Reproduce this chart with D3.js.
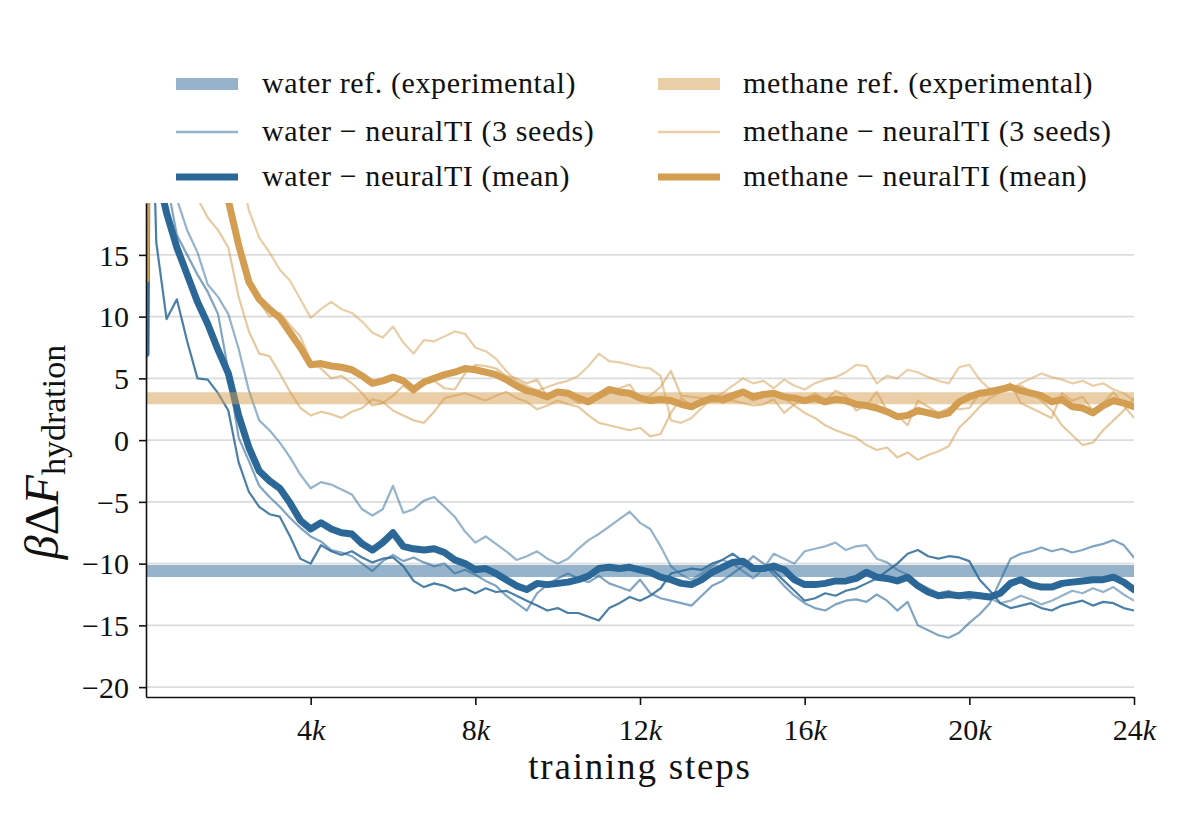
<!DOCTYPE html>
<html>
<head>
<meta charset="utf-8">
<script src="https://cdn.jsdelivr.net/npm/d3@7"></script>
<style>
  body { margin: 0; background: #fff; }
  text { font-family: "Liberation Serif", "DejaVu Serif", serif; fill: #111; }
</style>
</head>
<body>
<svg class="chart"></svg>
<script>
const [width, height] = [1200, 823]

// training steps: start, first jump, then every 250 steps
const steps = [0, 50].concat(d3.range(250, 24001, 250))

// reference values (experimental)
const waterRef = -10.6
const methaneRef = 3.4

// water, three seeds
const waterSeedA = [4, 40,
	30, 24, 19.5, 17.0, 15.2, 12.6, 11.6, 10.2,
	7.4, 4.0, 1.6, 0.8, -0.2, -1.4, -2.8, -3.9,
	-3.4, -3.6, -4.0, -4.4, -5.6, -6.1, -5.6, -3.7,
	-5.9, -5.6, -4.9, -4.6, -5.4, -6.2, -7.4, -8.3,
	-7.8, -8.4, -9.0, -9.7, -9.4, -9.0, -9.6, -10.0,
	-9.6, -8.8, -8.1, -7.6, -7.0, -6.4, -5.8, -6.7,
	-7.2, -8.6, -10.2, -10.9, -11.3, -10.8, -10.2, -9.7,
	-10.0, -10.6, -11.2, -10.4, -9.2, -9.6, -10.0, -9.0,
	-8.8, -8.6, -8.3, -8.9, -8.6, -8.5, -9.6, -9.9,
	-10.5, -10.9, -11.6, -12.0, -12.4, -12.2, -12.6, -12.9,
	-12.4, -12.8, -13.2, -13.0, -12.6, -12.9, -13.3, -13.0,
	-12.6, -12.2, -12.4, -12.0, -12.3, -11.9, -12.5, -13.0]
const waterSeedB = [12, 40,
	28, 21, 16.6, 15.0, 13.4, 12.0, 10.2, 5.6,
	0.2, -1.7, -3.7, -4.6, -5.4, -6.3, -7.1, -7.8,
	-8.2, -8.9, -9.1, -9.4, -10.0, -10.6, -9.8, -9.3,
	-9.8, -9.5, -9.9, -10.2, -10.0, -10.8, -10.5, -10.9,
	-11.4, -11.8, -12.6, -13.2, -13.8, -12.4, -11.7, -11.2,
	-10.8, -11.2, -11.5, -11.0, -11.6, -11.9, -12.2, -11.3,
	-12.4, -12.8, -13.0, -13.2, -13.4, -12.6, -11.8, -11.4,
	-10.8, -10.2, -9.4, -10.0, -10.9, -11.8, -12.6, -13.2,
	-13.6, -13.8, -13.3, -13.0, -12.9, -13.1, -12.5, -13.0,
	-13.8, -13.1, -15.0, -15.4, -15.8, -16.0, -15.6, -14.8,
	-14.1, -13.2, -11.4, -9.6, -9.2, -9.0, -8.7, -9.0,
	-8.8, -9.1, -8.9, -8.6, -8.4, -8.1, -8.5, -9.5]
const waterSeedC = [5, 40,
	16.0, 9.8, 11.4, 8.0, 5.0, 4.9, 3.8, 2.4,
	-1.8, -4.2, -5.4, -6.0, -6.2, -7.8, -9.6, -10.0,
	-8.5, -9.0, -9.3, -9.0, -9.5, -9.9, -9.6, -9.5,
	-10.2, -11.4, -11.9, -11.6, -11.8, -12.2, -12.0, -12.4,
	-12.0, -12.3, -12.2, -12.6, -13.0, -13.4, -13.8, -13.6,
	-14.0, -14.0, -14.3, -14.6, -13.6, -13.2, -12.7, -13.0,
	-12.6, -12.0, -10.8, -10.6, -10.4, -10.5, -10.0, -9.7,
	-9.2, -9.8, -10.4, -10.2, -10.6, -11.4, -12.2, -13.0,
	-12.8, -12.4, -12.6, -12.2, -12.0, -11.6, -11.2, -10.6,
	-10.0, -9.2, -8.9, -9.4, -9.6, -9.4, -9.5, -9.8,
	-11.3, -12.2, -13.2, -13.6, -13.4, -13.2, -13.6, -13.8,
	-13.4, -13.2, -13.0, -13.4, -13.1, -13.2, -13.6, -13.8]
const waterMean = [7, 40,
	22, 18.4, 15.6, 13.4, 11.2, 9.4, 7.3, 5.4,
	2.0, -0.6, -2.5, -3.3, -3.9, -5.1, -6.5, -7.2,
	-6.7, -7.2, -7.5, -7.6, -8.4, -8.9, -8.3, -7.5,
	-8.6, -8.8, -8.9, -8.8, -9.1, -9.7, -10.0, -10.5,
	-10.4, -10.8, -11.3, -11.8, -12.1, -11.6, -11.7, -11.6,
	-11.5, -11.3, -11.0, -10.4, -10.3, -10.4, -10.3, -10.5,
	-10.7, -11.1, -11.3, -11.6, -11.7, -11.3, -10.7, -10.3,
	-9.9, -9.8, -10.4, -10.4, -10.2, -10.5, -11.3, -11.7,
	-11.7, -11.6, -11.4, -11.4, -11.2, -10.7, -11.1, -11.2,
	-11.4, -11.1, -11.8, -12.3, -12.6, -12.5, -12.6, -12.5,
	-12.6, -12.7, -12.4, -11.6, -11.3, -11.7, -11.9, -11.9,
	-11.6, -11.5, -11.4, -11.3, -11.3, -11.1, -11.5, -12.1]

// methane, three seeds
const methaneSeedA = [3.0, 40,
	48, 46, 44, 42, 40, 37, 33, 27,
	22.5, 18.6, 16.4, 15.2, 13.8, 12.9, 11.4, 9.9,
	10.6, 11.2, 10.6, 10.3, 9.6, 8.7, 8.3, 9.2,
	7.9, 7.0, 8.1, 8.0, 8.4, 8.8, 8.6, 7.5,
	7.2, 6.6, 5.6, 4.8, 4.4, 4.0, 4.3, 4.6,
	4.8, 5.2, 6.0, 7.0, 6.4, 6.3, 6.1, 5.9,
	5.8, 5.2, 1.6, 1.4, 1.8, 2.6, 3.4, 3.8,
	4.4, 5.0, 4.6, 4.8, 4.2, 4.9, 4.4, 4.1,
	4.6, 4.9, 5.1, 5.5, 6.1, 6.0, 4.6, 5.2,
	5.0, 5.7, 5.5, 5.1, 4.8, 4.6, 5.9, 6.1,
	4.9, 4.1, 4.3, 4.1, 4.6, 5.0, 5.4, 5.1,
	4.9, 4.6, 4.8, 4.4, 4.6, 4.1, 3.8, 3.2]
const methaneSeedB = [12.5, 40,
	36, 32, 28, 24, 19.6, 18.0, 17.0, 15.6,
	11.6, 8.8, 7.0, 6.8, 5.4, 3.9, 2.6, 2.0,
	2.3, 2.1, 1.8, 2.3, 2.6, 3.3, 3.1, 2.4,
	2.0, 1.6, 1.4, 2.3, 3.4, 3.6, 3.8, 3.5,
	3.2, 3.6, 3.9, 3.4, 3.1, 2.5, 2.8, 3.2,
	2.9, 2.7, 2.0, 1.4, 1.2, 1.0, 0.8, 1.0,
	0.3, 0.5, 2.2, 3.4, 2.8, 3.2, 3.6, 3.0,
	3.3, 3.7, 3.2, 3.5, 3.9, 3.4, 2.8, 2.2,
	1.8, 1.2, 0.8, 0.5, 0.2, -0.4, -0.8, -0.6,
	-1.4, -1.0, -1.6, -1.2, -0.9, -0.5, 1.0, 1.8,
	2.7, 3.4, 3.9, 4.2, 4.4, 3.9, 3.2, 2.4,
	1.2, 0.4, -0.4, -0.2, 0.8, 1.6, 2.4, 3.4]
const methaneSeedC = [3.3, 40,
	45, 42, 39, 36, 33, 30, 26, 20,
	16.0, 12.8, 11.2, 10.0, 10.3, 9.3, 8.4, 6.4,
	5.8, 5.0, 5.2, 4.6, 3.8, 2.8, 3.0, 3.6,
	4.4, 3.8, 4.6, 4.8, 4.2, 4.1, 5.4, 6.1,
	6.0, 5.8, 5.2, 5.0, 4.6, 4.9, 3.5, 3.9,
	3.6, 3.0, 3.2, 3.4, 3.8, 4.2, 4.5, 3.3,
	3.6, 4.3, 5.6, 3.6, 3.5, 3.4, 3.1, 3.2,
	3.2, 3.0, 2.8, 2.9, 3.3, 2.2, 2.9, 3.3,
	3.8, 3.2, 4.0, 3.6, 2.4, 2.8, 3.9, 2.4,
	2.0, 1.2, 3.2, 2.7, 2.2, 2.6, 2.5, 2.6,
	3.8, 4.2, 4.1, 4.6, 3.0, 2.6, 2.2, 1.8,
	3.8, 3.2, 3.5, 2.4, 3.0, 3.9, 2.8, 1.8]
const methaneMean = [13, 40,
	43, 40, 37, 34, 31, 28, 25, 19.4,
	15.8, 12.8, 11.4, 10.6, 9.9, 8.7, 7.5, 6.1,
	6.2, 6.0, 5.9, 5.7, 5.2, 4.6, 4.8, 5.1,
	4.8, 4.1, 4.7, 5.0, 5.3, 5.5, 5.8, 5.7,
	5.5, 5.3, 4.9, 4.4, 4.0, 3.8, 3.5, 3.9,
	3.8, 3.4, 3.1, 3.6, 4.1, 3.9, 3.8, 3.4,
	3.2, 3.3, 3.2, 2.9, 2.7, 3.1, 3.4, 3.3,
	3.6, 3.9, 3.5, 3.7, 3.8, 3.5, 3.4, 3.2,
	3.4, 3.1, 3.3, 3.2, 2.9, 2.8, 2.6, 2.3,
	1.9, 2.0, 2.4, 2.2, 2.0, 2.2, 3.1, 3.5,
	3.8, 3.9, 4.1, 4.3, 4.0, 3.8, 3.6, 3.1,
	3.3, 2.7, 2.6, 2.2, 2.8, 3.2, 3.0, 2.7]

const yTicks = [-20, -15, -10, -5, 0, 5, 10, 15]
const xTicks = [4000, 8000, 12000, 16000, 20000, 24000]

const legendLabels = [
	'water ref. (experimental)', 'water \u2212 neuralTI (3 seeds)', 'water \u2212 neuralTI (mean)',
	'methane ref. (experimental)', 'methane \u2212 neuralTI (3 seeds)', 'methane \u2212 neuralTI (mean)',
]

const waterColor = '#2c6897'
const methaneColor = '#d39d52'

const svg = d3.select('svg.chart')
	.attr('width', width)
	.attr('height', height)
	.attr('viewBox', `0 0 ${width} ${height}`)

svg.append('rect').attr('width', width).attr('height', height).attr('fill', '#fff')

const x = d3.scaleLinear().domain([0, 24000]).range([146, 1134])
const y = d3.scaleLinear().domain([-20.8, 19.2]).range([697, 203])

// grid
svg.append('g')
	.selectAll('line')
		.data(yTicks)
	.enter().append('line')
		.attr('x1', x.range()[0])
		.attr('x2', x.range()[1])
		.attr('y1', d => y(d))
		.attr('y2', d => y(d))
		.attr('stroke', '#dcdcdc')
		.attr('stroke-width', 1.6)

svg.append('clipPath').attr('id', 'plot')
	.append('rect')
		.attr('x', x.range()[0])
		.attr('y', y.range()[1])
		.attr('width', x.range()[1] - x.range()[0])
		.attr('height', y.range()[0] - y.range()[1])

const plot = svg.append('g').attr('clip-path', 'url(#plot)')

const line = d3.line()
	.x((d, i) => x(steps[i]))
	.y(d => y(d))

const drawLine = (values, color, w, opacity) => plot.append('path')
	.attr('d', line(values))
	.attr('fill', 'none')
	.attr('stroke', color)
	.attr('stroke-width', w)
	.attr('stroke-opacity', opacity)
	.attr('stroke-linejoin', 'round')
	.attr('stroke-linecap', 'round')

drawLine(waterSeedA, waterColor, 2.2, 0.5)
drawLine(waterSeedB, waterColor, 2.2, 0.6)
drawLine(waterSeedC, waterColor, 2.2, 0.85)
drawLine(waterMean, waterColor, 7, 1)
drawLine(methaneSeedA, methaneColor, 2.2, 0.5)
drawLine(methaneSeedB, methaneColor, 2.2, 0.55)
drawLine(methaneSeedC, methaneColor, 2.2, 0.55)
drawLine(methaneMean, methaneColor, 7, 1)

// reference bands
plot.selectAll('line.ref')
		.data([[waterRef, waterColor], [methaneRef, methaneColor]])
	.enter().append('line')
		.attr('class', 'ref')
		.attr('x1', x(0))
		.attr('x2', x(24000))
		.attr('y1', d => y(d[0]))
		.attr('y2', d => y(d[0]))
		.attr('stroke', d => d[1])
		.attr('stroke-width', 12)
		.attr('stroke-opacity', 0.5)

// axes
const yAxis = svg.append('g')
	.attr('transform', `translate(${x.range()[0]},0)`)
	.call(d3.axisLeft(y)
		.tickValues(yTicks)
		.tickSize(7)
		.tickSizeOuter(0)
		.tickPadding(10)
		.tickFormat(d => d < 0 ? '\u2212' + Math.abs(d) : d))
yAxis.selectAll('text').attr('font-size', 30).attr('dy', '0.34em')

const xAxis = svg.append('g')
	.attr('transform', `translate(0,${y.range()[0]})`)
	.call(d3.axisBottom(x)
		.tickValues(xTicks)
		.tickSize(8)
		.tickSizeOuter(0)
		.tickPadding(12))
xAxis.selectAll('text')
	.attr('font-size', 30)
	.attr('dy', '0.75em')
	.text(null)
	.each(function (d) {
		const t = d3.select(this)
		t.append('tspan').text(d / 1000)
		t.append('tspan').attr('font-style', 'italic').text('k')
	})

svg.selectAll('.domain, .tick line').attr('stroke', '#111').attr('stroke-width', 1.6)
svg.selectAll('.tick text').attr('fill', '#111').attr('font-family', '"Liberation Serif", serif')

// axis labels
svg.append('text')
	.attr('x', (x.range()[0] + x.range()[1]) / 2)
	.attr('y', 779)
	.attr('text-anchor', 'middle')
	.attr('font-size', 37)
	.attr('letter-spacing', 1.8)
	.text('training steps')

const ylab = svg.append('text')
	.attr('transform', 'translate(58,452) rotate(-90)')
	.attr('text-anchor', 'middle')
	.attr('font-size', 48)
ylab.append('tspan').attr('font-style', 'italic').text('\u03b2')
ylab.append('tspan').text('\u0394')
ylab.append('tspan').attr('font-style', 'italic').text('F')
ylab.append('tspan').attr('font-size', 34).attr('dy', 7).text('hydration')

// legend
const legendRows = [84, 132, 177]
const legendCols = [[176, 238, 262], [658, 720, 743]]
const handleStyles = [[12, 0.5], [2.6, 0.5], [7, 1]]

const legend = svg.append('g')
legendLabels.forEach((label, i) => {
	const col = legendCols[Math.floor(i / 3)]
	const row = legendRows[i % 3]
	const color = i < 3 ? waterColor : methaneColor
	const [w, op] = handleStyles[i % 3]
	legend.append('line')
		.attr('x1', col[0]).attr('x2', col[1])
		.attr('y1', row).attr('y2', row)
		.attr('stroke', color)
		.attr('stroke-width', w)
		.attr('stroke-opacity', op)
	legend.append('text')
		.attr('x', col[2])
		.attr('y', row + 9)
		.attr('font-size', 30)
		.attr('letter-spacing', 0.6)
		.text(label)
})
</script>
</body>
</html>
